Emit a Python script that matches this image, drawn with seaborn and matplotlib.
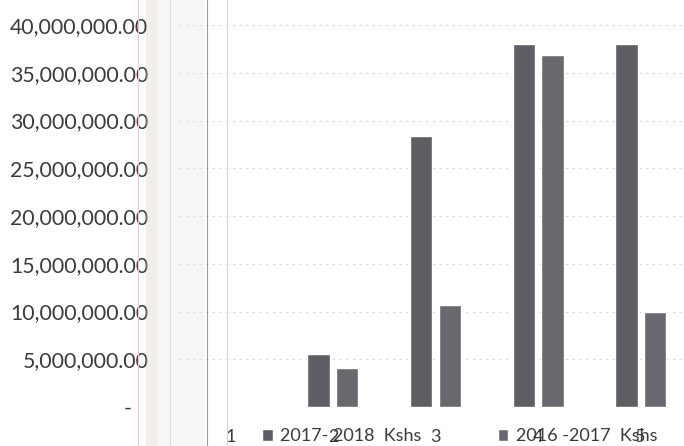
import pandas as pd
import numpy as np
import seaborn as sns
import matplotlib.pyplot as plt
from matplotlib.patches import Rectangle
from matplotlib.lines import Line2D
from matplotlib.ticker import FuncFormatter

# data
categories = ["1", "2", "3", "4", "5"]
series_names = ["2017- 2018  Kshs", "2016 -2017  Kshs"]
fy_2017_2018 = [0, 5.5e6, 28.4e6, 38.0e6, 38.0e6]
fy_2016_2017 = [0, 4.1e6, 10.7e6, 36.9e6, 10.0e6]
y_ticks = [0, 5e6, 10e6, 15e6, 20e6, 25e6, 30e6, 35e6, 40e6]

df = pd.DataFrame({
    "category": categories * 2,
    "amount": fy_2017_2018 + fy_2016_2017,
    "series": [series_names[0]] * 5 + [series_names[1]] * 5,
})

sns.set_style("white")
plt.rcParams['font.family'] = ['Lato', 'DejaVu Sans']
text_color = '#3b3b3b'

fig = plt.figure(figsize=(6.84, 4.46), dpi=100)
ax = fig.add_axes([0.2617, 0.0874, 0.75, 0.8565])
ax.set_facecolor('none')

sns.barplot(data=df, x="category", y="amount", hue="series",
            palette=['#5f5e65', '#69686f'], width=0.56, gap=0.22,
            saturation=1, ax=ax)

ax.set_ylim(0, 40e6)
ax.set_xlim(-0.5, 4.5)
ax.set_yticks(y_ticks)
ax.yaxis.set_major_formatter(FuncFormatter(
    lambda v, p: '-   ' if v == 0 else f'{v:,.2f}'))
ax.tick_params(axis='y', length=0, pad=22, labelsize=15.3, labelcolor=text_color)
ax.tick_params(axis='x', length=0, pad=16, labelsize=13, labelcolor=text_color)
ax.set_xlabel('')
ax.set_ylabel('')
for s in ax.spines.values():
    s.set_visible(False)
for y in y_ticks:
    ax.axhline(y, color='#d4d4d4', lw=0.8, ls=(0, (2, 4)), zorder=0)

# legend sits on top of the category labels, as in the scan
handles, labels = ax.get_legend_handles_labels()
ax.get_legend().remove()
fig.legend(handles, labels, loc='center', bbox_to_anchor=(0.672, 0.022),
           ncol=2, frameon=False, fontsize=13, labelcolor=text_color,
           handlelength=0.6, handleheight=0.6, handletextpad=0.4,
           columnspacing=4.2)

# faint scanner streak on the left of the plot
fig.patches.append(Rectangle((146 / 684, 0), 12 / 684, 1, transform=fig.transFigure,
                             color='#d9cfc6', alpha=0.35, lw=0))
fig.patches.append(Rectangle((158 / 684, 0), 47 / 684, 1, transform=fig.transFigure,
                             color='#e8e6e8', alpha=0.35, lw=0))
for x, c in [(138, '#ecc8e0'), (170, '#d8d8d8'), (207, '#b78aa8'), (227, '#f0c8dc')]:
    fig.add_artist(Line2D([x / 684, x / 684], [0, 1], transform=fig.transFigure,
                          color=c, lw=0.8))

plt.savefig('out.png', dpi=100)
